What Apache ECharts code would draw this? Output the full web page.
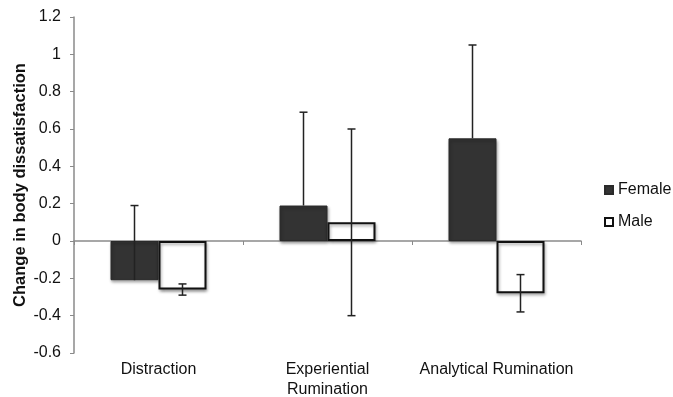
<!DOCTYPE html>
<html>
<head>
<meta charset="utf-8">
<script src="https://cdn.jsdelivr.net/npm/echarts@6/dist/echarts.min.js"></script>
<style>html,body{margin:0;padding:0;background:#fff;}#c{width:673px;height:397px;}</style>
</head>
<body>
<div id="c"></div>
<script>
var categories = ['Distraction', 'Experiential\nRumination', 'Analytical Rumination'];
var yTicks = [-0.6, -0.4, -0.2, 0, 0.2, 0.4, 0.6, 0.8, 1, 1.2];
var femaleValues = [-0.21, 0.19, 0.55];
var maleValues = [-0.26, 0.10, -0.28];
var femaleErrPlus = [0.40, 0.50, 0.50];
var femaleErrMinus = [0, 0, 0];
var maleErrPlus = [0.03, 0.50, 0.10];
var maleErrMinus = [0.03, 0.50, 0.10];

var BAR_FRAC = 0.284;
var FONT = '"Liberation Sans", Arial, Helvetica, sans-serif';

function errData(vals, plus, minus) {
  return vals.map(function (v, i) { return [i, v, v - minus[i], v + plus[i]]; });
}

function makeErrSeries(name, data, side, color) {
  return {
    type: 'custom',
    name: name + ' err',
    z: 10,
    silent: true,
    xAxisIndex: 0,
    data: data,
    encode: { x: 0, y: [1, 2, 3] },
    renderItem: function (params, api) {
      var idx = api.value(0), v = api.value(1), lo = api.value(2), hi = api.value(3);
      var band = api.size([1, 0])[0];
      var off = side * band * BAR_FRAC / 2;
      var pHi = api.coord([idx, hi]);
      var pLo = api.coord([idx, lo]);
      var x = pHi[0] + off;
      var cap = 4;
      var style = { stroke: color, lineWidth: 1.5 };
      var children = [{ type: 'line', shape: { x1: x, y1: pHi[1], x2: x, y2: pLo[1] }, style: style }];
      if (hi !== v) children.push({ type: 'line', shape: { x1: x - cap, y1: pHi[1], x2: x + cap, y2: pHi[1] }, style: style });
      if (lo !== v) children.push({ type: 'line', shape: { x1: x - cap, y1: pLo[1], x2: x + cap, y2: pLo[1] }, style: style });
      return { type: 'group', children: children };
    }
  };
}

var chart = echarts.init(document.getElementById('c'), null, { renderer: 'canvas' });
chart.setOption({
  animation: false,
  backgroundColor: '#ffffff',
  textStyle: { fontFamily: FONT },
  grid: { left: 74, right: 92, top: 17, bottom: 44, containLabel: false, outerBoundsMode: 'none' },
  legend: {
    orient: 'vertical',
    left: 604,
    top: 182,
    padding: 0,
    itemWidth: 8,
    itemHeight: 8,
    itemGap: 16,
    icon: 'rect',
    textStyle: { fontFamily: FONT, fontSize: 16, color: '#111' },
    data: ['Female', 'Male']
  },
  xAxis: [
    {
      type: 'category',
      data: categories,
      position: 'bottom',
      axisLine: { show: false, onZero: false },
      axisTick: { show: false },
      axisLabel: { margin: 7, fontFamily: FONT, fontSize: 16, color: '#111', lineHeight: 20, interval: 0 },
      splitLine: { show: false }
    },
    {
      type: 'category',
      data: categories,
      position: 'bottom',
      axisLine: { show: true, onZero: true, lineStyle: { color: '#8a8a8a', width: 1.5 } },
      axisTick: { show: true, length: 4, lineStyle: { color: '#8a8a8a' } },
      axisLabel: { show: false },
      splitLine: { show: false }
    }
  ],
  yAxis: {
    type: 'value',
    min: yTicks[0],
    max: yTicks[yTicks.length - 1],
    interval: 0.2,
    name: 'Change in body dissatisfaction',
    nameLocation: 'middle',
    nameGap: 45,
    nameMoveOverlap: false,
    nameRotate: 90,
    nameTextStyle: { fontFamily: FONT, fontSize: 16.5, fontWeight: 'bold', color: '#111' },
    axisLine: { show: true, lineStyle: { color: '#8a8a8a', width: 1.5 } },
    axisTick: { show: true, length: 4, lineStyle: { color: '#8a8a8a' } },
    axisLabel: {
      margin: 13, fontFamily: FONT, fontSize: 16, color: '#111',
      formatter: function (v) { return String(Math.round(v * 10) / 10); }
    },
    splitLine: { show: false }
  },
  series: [
    {
      name: 'Female', type: 'bar', data: femaleValues, xAxisIndex: 0,
      barWidth: (BAR_FRAC * 100) + '%', barGap: '0%',
      itemStyle: { color: '#333333', borderColor: '#2a2a2a', borderWidth: 1,
        shadowColor: 'rgba(0,0,0,0.35)', shadowBlur: 3, shadowOffsetX: 1, shadowOffsetY: 2 }
    },
    {
      name: 'Male', type: 'bar', data: maleValues, xAxisIndex: 0,
      barWidth: (BAR_FRAC * 100) + '%', barGap: '0%',
      itemStyle: { color: '#ffffff', borderColor: '#111111', borderWidth: 2,
        shadowColor: 'rgba(0,0,0,0.35)', shadowBlur: 3, shadowOffsetX: 1, shadowOffsetY: 2 }
    },
    makeErrSeries('Female', errData(femaleValues, femaleErrPlus, femaleErrMinus), -1, '#222'),
    makeErrSeries('Male', errData(maleValues, maleErrPlus, maleErrMinus), 1, '#222')
  ]
});
</script>
</body>
</html>
